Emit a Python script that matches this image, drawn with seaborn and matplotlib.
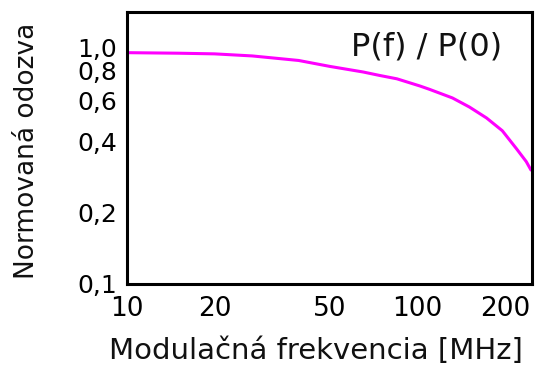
import numpy as np
import pandas as pd
import seaborn as sns
import matplotlib.pyplot as plt
from matplotlib.ticker import FixedLocator, FixedFormatter, NullLocator

# values
freq_mhz = [10, 15, 20, 27, 39, 50, 65, 74, 85, 102, 110, 132, 151, 173, 196, 219, 237, 246]
response = [0.955, 0.950, 0.944, 0.925, 0.885, 0.835, 0.791, 0.765, 0.740, 0.690, 0.668,
            0.614, 0.562, 0.505, 0.446, 0.375, 0.330, 0.304]

x_ticks = [10, 20, 50, 100, 200]
x_labels = ['10', '20', '50', '100', '200']
y_ticks = [0.1, 0.2, 0.4, 0.6, 0.8, 1.0]
y_labels = ['0,1', '0,2', '0,4', '0,6', '0,8', '1,0']

df = pd.DataFrame({'f': freq_mhz, 'r': response})

sns.set_style('white')
plt.rcParams['font.family'] = ['DejaVu Sans']

fig = plt.figure(figsize=(5.42, 3.67), dpi=100)
ax = fig.add_axes([0.2343, 0.2262, 0.9815 - 0.2343, 0.9673 - 0.2262])

sns.lineplot(data=df, x='f', y='r', ax=ax, color='#ff00ff', linewidth=2.2)

ax.set_xscale('log')
ax.set_yscale('log')
ax.set_xlim(10, 248)
ax.set_ylim(0.1, 1.42)

ax.xaxis.set_major_locator(FixedLocator(x_ticks))
ax.xaxis.set_major_formatter(FixedFormatter(x_labels))
ax.xaxis.set_minor_locator(NullLocator())
ax.yaxis.set_major_locator(FixedLocator(y_ticks))
ax.yaxis.set_major_formatter(FixedFormatter(y_labels))
ax.yaxis.set_minor_locator(NullLocator())

ax.tick_params(direction='in', length=13, width=2, colors='black',
               top=False, right=False)
ax.tick_params(axis='x', pad=9, labelsize=19)
ax.tick_params(axis='y', pad=7, labelsize=18)

for s in ax.spines.values():
    s.set_visible(True)
    s.set_color('black')
    s.set_linewidth(2.2)

ax.set_xlabel('Modulačná frekvencia [MHz]', fontsize=21, color='#111111')
ax.set_ylabel('Normovaná odozva', fontsize=19, color='#111111')
ax.xaxis.set_label_coords(0.467, -0.195)
ax.yaxis.set_label_coords(-0.215, 0.49)

ax.text(0.926, 0.87, 'P(f) / P(0)', transform=ax.transAxes, fontsize=23,
        ha='right', va='center', color='#111111')

fig.savefig('out.png', dpi=100)
